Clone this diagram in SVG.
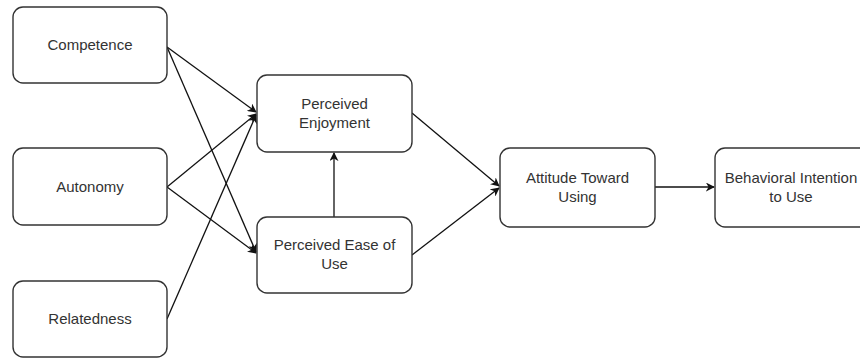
<svg xmlns="http://www.w3.org/2000/svg" width="860" height="358" viewBox="0 0 860 358">
<style>
.box{fill:#fff;stroke:#333;stroke-width:1.4}
.lbl{font-family:"Liberation Sans",Arial,sans-serif;font-size:15px;fill:#333;text-anchor:middle}
.edge{stroke:#111;stroke-width:1.3;fill:none;marker-end:url(#ah)}
</style>
<defs>
<marker id="ah" viewBox="0 0 10 10" refX="9" refY="5" markerWidth="9" markerHeight="9" markerUnits="userSpaceOnUse" orient="auto">
<path d="M0,0 L10,5 L0,10 L3,5 Z" fill="#111"/>
</marker>
</defs>
<rect width="860" height="358" fill="#fff"/>
<g id="connectors">
<line class="edge" x1="167" y1="47" x2="256" y2="112"/>
<line class="edge" x1="167" y1="47" x2="256" y2="252"/>
<line class="edge" x1="167" y1="187" x2="256" y2="114"/>
<line class="edge" x1="167" y1="187" x2="256" y2="253"/>
<line class="edge" x1="167" y1="319" x2="256" y2="115"/>
<line class="edge" x1="334" y1="217" x2="334" y2="153"/>
<line class="edge" x1="412" y1="113" x2="499" y2="186"/>
<line class="edge" x1="412" y1="255" x2="499" y2="188"/>
<line class="edge" x1="655" y1="187" x2="714" y2="187"/>
</g>
<g id="competence"><rect class="box" x="13" y="7" width="154" height="76" rx="10"/><text class="lbl" x="90" y="50">Competence</text></g>
<g id="autonomy"><rect class="box" x="13" y="148" width="154" height="77" rx="10"/><text class="lbl" x="90" y="192">Autonomy</text></g>
<g id="relatedness"><rect class="box" x="13" y="281" width="154" height="76" rx="10"/><text class="lbl" x="90" y="324">Relatedness</text></g>
<g id="enjoyment"><rect class="box" x="257" y="75" width="155" height="77" rx="10"/><text class="lbl" x="334.5" y="109">Perceived</text><text class="lbl" x="334.5" y="128">Enjoyment</text></g>
<g id="ease"><rect class="box" x="257" y="217" width="155" height="76" rx="10"/><text class="lbl" x="334.5" y="250">Perceived Ease of</text><text class="lbl" x="334.5" y="269">Use</text></g>
<g id="attitude"><rect class="box" x="500" y="148" width="155" height="79" rx="10"/><text class="lbl" x="577.5" y="183">Attitude Toward</text><text class="lbl" x="577.5" y="202">Using</text></g>
<g id="intention"><rect class="box" x="715" y="148" width="155" height="79" rx="10"/><text class="lbl" x="791" y="183">Behavioral Intention</text><text class="lbl" x="791" y="202">to Use</text></g>
</svg>
